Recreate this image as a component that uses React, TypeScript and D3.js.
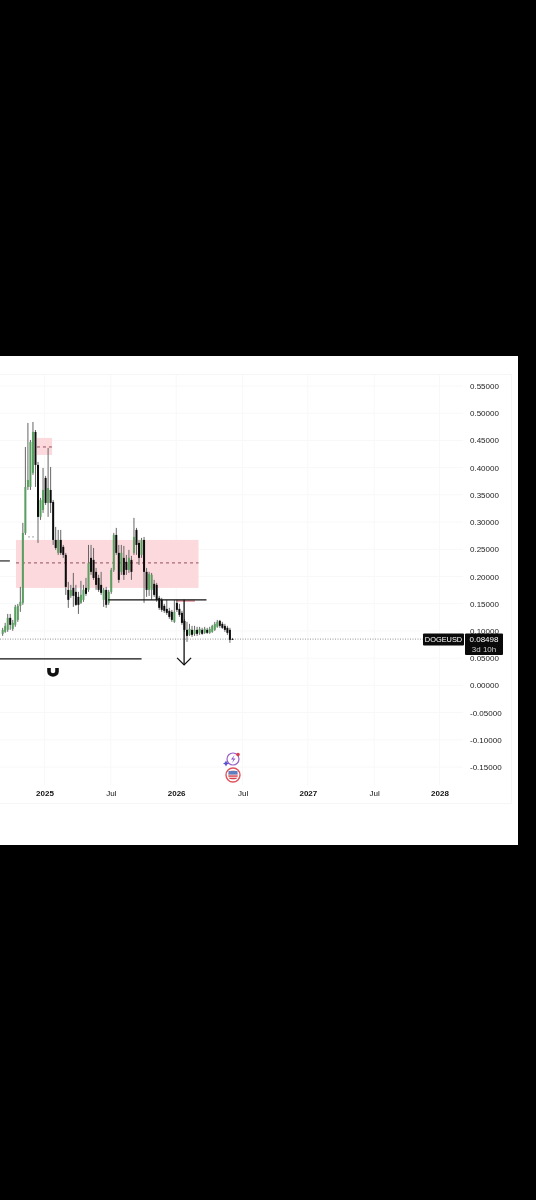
import { useEffect, useRef } from "react";
import * as d3 from "d3";

const firstWeek = "2024-09-07";
// weekly DOGEUSD candles
const opens = [.0946,.0983,.1020,.1240,.1038,.1112,.1203,.1461,.1516,.2801,.3645,.3645,.3903,.4656,.4050,.3095,.3223,.3811,.3352,.3590,.3370,.2672,.2434,.2672,.2544,.2397,.1754,.1644,.1791,.1718,.1626,.1516,.1571,.1791,.1754,.2342,.2305,.2085,.1974,.1846,.1571,.1754,.1516,.1718,.2121,.2764,.2434,.2085,.2342,.2269,.2121,.2305,.2434,.2856,.2617,.2397,.2672,.2085,.1754,.1754,.1865,.1846,.1607,.1571,.1461,.1405,.1369,.1350,.1167,.1516,.1405,.1332,.1185,.1020,.0928,.1020,.0946,.1020,.0965,.1020,.0965,.1020,.0965,.0983,.1020,.1075,.1185,.1130,.1093,.1057,.1020,.0853];
const highs = [.1057,.1148,.1313,.1313,.1203,.1479,.1497,.1809,.2985,.4380,.4821,.4509,.4839,.4692,.4105,.3444,.3995,.3848,.4362,.4013,.3407,.2911,.2856,.2856,.2580,.2434,.1901,.1846,.2066,.1846,.1718,.1920,.1846,.1974,.2580,.2580,.2525,.2158,.2030,.2085,.1791,.1809,.1754,.2158,.2801,.2893,.2580,.2580,.2562,.2397,.2489,.2379,.3077,.2893,.2672,.2709,.2727,.2158,.2085,.2066,.1938,.1883,.1644,.1607,.1497,.1571,.1424,.1387,.1571,.1571,.1497,.1369,.1222,.1167,.1130,.1093,.1093,.1075,.1075,.1057,.1075,.1057,.1075,.1112,.1167,.1203,.1203,.1167,.1130,.1093,.1057,.0872];
const lows = [.0909,.0965,.0983,.1020,.1001,.1075,.1167,.1350,.1479,.2764,.3590,.3590,.3866,.3645,.2617,.3040,.3168,.3315,.3095,.3168,.2580,.2489,.2397,.2397,.2342,.1662,.1424,.1607,.1442,.1461,.1313,.1497,.1534,.1644,.1718,.2030,.1938,.1754,.1718,.1662,.1442,.1424,.1479,.1681,.2085,.2397,.1883,.2030,.1938,.2030,.2066,.1938,.2397,.2397,.2213,.2342,.1516,.1626,.1644,.1571,.1626,.1534,.1387,.1350,.1332,.1295,.1222,.1167,.1148,.1350,.1258,.1112,.0983,.0799,.0909,.0891,.0909,.0909,.0928,.0928,.0946,.0946,.0946,.0965,.1001,.1057,.1057,.1038,.0983,.0928,.0781,.0836];
const closes = [.1020,.1093,.1240,.1112,.1148,.1442,.1461,.1534,.2801,.3645,.3774,.4472,.4656,.4050,.3095,.3407,.3590,.3352,.3627,.3352,.2672,.2525,.2672,.2434,.2397,.1809,.1571,.1754,.1644,.1479,.1479,.1662,.1754,.1681,.2250,.2085,.1974,.1846,.1754,.1699,.1754,.1479,.1718,.2121,.2764,.2434,.1938,.2434,.2030,.2121,.2342,.2085,.2727,.2580,.2342,.2672,.2085,.1754,.2048,.2030,.1662,.1571,.1424,.1387,.1369,.1332,.1258,.1203,.1350,.1387,.1295,.1148,.1020,.0909,.1038,.0928,.1020,.0946,.1038,.0946,.1038,.0965,.1038,.1093,.1130,.1167,.1093,.1057,.1020,.0965,.0836,.0850];

const priceTicks = [.55,.5,.45,.4,.35,.3,.25,.2,.15,.1,.05,0,-.05,-.1,-.15];
const timeTicks = ["2025-01-01","2025-07-04","2026-01-01","2026-07-04","2027-01-01","2027-07-04","2028-01-01"];
const timeLabels = ["2025","Jul","2026","Jul","2027","Jul","2028"];
const lastPrice = 0.08498;
const countdown = "3d 10h";
const symbol = "DOGEUSD";

const day = (s: string) => new Date(s + "T00:00:00Z");

// drawings: [from, to, top price, bottom price]
const zones: [string, string, number, number][] = [
    ["2024-10-14", "2026-03-04", 0.2672, 0.1791],
    ["2024-12-11", "2025-01-22", 0.4546, 0.4234],
    ["2026-01-01", "2026-02-22", 0.1571, 0.1534],
];
const midlines: [string, string, number][] = [
    ["2024-10-14", "2026-03-04", 0.2250],
    ["2024-12-11", "2025-01-22", 0.4380],
];
const dottedLines: [string, string, number][] = [["2024-11-17", "2024-12-08", 0.2727]];
const blackLines: [string, string, number][] = [
    ["2024-08-01", "2024-09-27", 0.2286],
    ["2024-08-01", "2025-09-27", 0.0487],
    ["2025-06-26", "2026-03-26", 0.1571],
];
const arrowDate = "2026-01-23";
const arrowFrom = 0.1571;
const arrowTo = 0.0377;

const App = () => {
    const ref = useRef<SVGSVGElement>(null);

    useEffect(() => {
        const svg = d3.select(ref.current);
        svg.selectAll("*").remove();

        var x = d3.scaleUtc().domain([day("2025-01-01"), day("2028-01-01")]).range([44.5, 439.5]);
        var y = d3.scaleLinear().domain([0.55, -0.15]).range([386, 767]);

        svg.append("rect").attr("width", 536).attr("height", 1200).attr("fill", "#000");
        svg.append("rect").attr("y", 356).attr("width", 518).attr("height", 489).attr("fill", "#fff");
        svg.append("defs").append("clipPath").attr("id", "panel")
            .append("rect").attr("y", 356).attr("width", 518).attr("height", 489);

        const root = svg.append("g").attr("clip-path", "url(#panel)")
            .style("font-family", "'Liberation Sans', Arial, sans-serif");

        // frame
        root.append("path").attr("d", "M0,374.5H511.5V803.5H0").attr("fill", "none").attr("stroke", "#f6f6f6");

        // grid
        root.append("g").selectAll("line").data(priceTicks).join("line")
            .attr("x1", 0).attr("x2", 463)
            .attr("y1", d => y(d)).attr("y2", d => y(d))
            .attr("stroke", "#f8f8f8");
        root.append("g").selectAll("line").data(timeTicks).join("line")
            .attr("x1", d => x(day(d))).attr("x2", d => x(day(d)))
            .attr("y1", 375).attr("y2", 785)
            .attr("stroke", "#f8f8f8");

        // pink zones
        root.append("g").selectAll("rect").data(zones).join("rect")
            .attr("x", d => x(day(d[0])))
            .attr("width", d => x(day(d[1])) - x(day(d[0])))
            .attr("y", d => y(d[2]))
            .attr("height", d => y(d[3]) - y(d[2]))
            .attr("fill", (d, i) => i == 2 ? "#e9a0a8" : "#fbd9dd");
        root.append("g").selectAll("line").data(midlines).join("line")
            .attr("x1", d => x(day(d[0]))).attr("x2", d => x(day(d[1])))
            .attr("y1", d => y(d[2])).attr("y2", d => y(d[2]))
            .attr("stroke", "#8a3f4a").attr("stroke-dasharray", "3 3").attr("stroke-width", 0.9);
        root.append("g").selectAll("line").data(dottedLines).join("line")
            .attr("x1", d => x(day(d[0]))).attr("x2", d => x(day(d[1])))
            .attr("y1", d => y(d[2])).attr("y2", d => y(d[2]))
            .attr("stroke", "#666").attr("stroke-dasharray", "1.5 2.5").attr("stroke-width", 0.8);

        // last price line
        root.append("line")
            .attr("x1", 0).attr("x2", 423)
            .attr("y1", y(lastPrice)).attr("y2", y(lastPrice))
            .attr("stroke", "#777").attr("stroke-dasharray", "1 1.5").attr("stroke-width", 0.8);

        // candles
        const start = day(firstWeek);
        const candles = root.append("g").selectAll("g").data(d3.range(opens.length)).join("g");
        const when = (i: number) => d3.utcWeek.offset(start, i);
        candles.append("line")
            .attr("x1", i => x(when(i))).attr("x2", i => x(when(i)))
            .attr("y1", i => y(highs[i])).attr("y2", i => y(lows[i]))
            .attr("stroke", "#666").attr("stroke-width", 1);
        candles.append("rect")
            .attr("x", i => x(when(i)) - 1)
            .attr("width", 2)
            .attr("y", i => y(Math.max(opens[i], closes[i])))
            .attr("height", i => Math.max(0.8, Math.abs(y(opens[i]) - y(closes[i]))))
            .attr("fill", i => closes[i] >= opens[i] ? "#5a9f60" : "#0c0c0c");

        // black trend lines
        root.append("g").selectAll("line").data(blackLines).join("line")
            .attr("x1", d => x(day(d[0]))).attr("x2", d => x(day(d[1])))
            .attr("y1", d => y(d[2])).attr("y2", d => y(d[2]))
            .attr("stroke", "#111").attr("stroke-width", 1.1);

        // arrow
        const ax = x(day(arrowDate));
        root.append("line")
            .attr("x1", ax).attr("x2", ax)
            .attr("y1", y(arrowFrom)).attr("y2", y(arrowTo))
            .attr("stroke", "#111").attr("stroke-width", 1.3);
        root.append("path")
            .attr("d", `M${ax - 7},${y(arrowTo) - 7}L${ax},${y(arrowTo)}L${ax + 7},${y(arrowTo) - 7}`)
            .attr("fill", "none").attr("stroke", "#111").attr("stroke-width", 1.3);

        // magnet icon
        root.append("path")
            .attr("d", "M49,668V671.5a4,3.5 0 0 0 8,0V668")
            .attr("fill", "none").attr("stroke", "#111").attr("stroke-width", 3.6);

        // event icons
        const bolt = root.append("g").attr("transform", "translate(233,759)");
        bolt.append("circle").attr("r", 6).attr("fill", "#fff").attr("stroke", "#9a5fc8").attr("stroke-width", 1.2);
        bolt.append("path").attr("d", "M1.5,-4L-2,0.5H0.5L-1,4L2.5,-0.5H0Z").attr("fill", "#8e4fc4");
        bolt.append("path").attr("d", "M-7,1.5L-6,3.5L-4,4.5L-6,5.5L-7,7.5L-8,5.5L-10,4.5L-8,3.5Z").attr("fill", "#5a4fd0");
        bolt.append("circle").attr("cx", 5).attr("cy", -4.5).attr("r", 1.8).attr("fill", "#d8404c");
        const flag = root.append("g").attr("transform", "translate(233,775)");
        flag.append("circle").attr("r", 7).attr("fill", "#fff").attr("stroke", "#e0525c").attr("stroke-width", 1.4);
        flag.append("circle").attr("r", 5).attr("fill", "#f3c6c8");
        flag.append("rect").attr("x", -4.5).attr("y", -4).attr("width", 9).attr("height", 3.5).attr("fill", "#5b7fc0");
        flag.append("rect").attr("x", -4.5).attr("y", 0.5).attr("width", 9).attr("height", 1.2).attr("fill", "#d8404c");
        flag.append("rect").attr("x", -3.5).attr("y", 3).attr("width", 7).attr("height", 1).attr("fill", "#d8404c");

        // price axis
        const yAxis = root.append("g").attr("transform", "translate(470,0)")
            .call(d3.axisRight(y).tickValues(priceTicks).tickSize(0).tickPadding(0).tickFormat(d => Number(d).toFixed(5)));
        yAxis.select(".domain").remove();
        yAxis.selectAll("text").attr("font-size", 8).attr("font-family", "'Liberation Sans', Arial, sans-serif").attr("fill", "#222");

        // time axis
        const xAxis = root.append("g").attr("transform", "translate(0,790)")
            .call(d3.axisBottom(x).tickValues(timeTicks.map(day)).tickSize(0).tickPadding(0)
                .tickFormat((d, i) => timeLabels[i]));
        xAxis.select(".domain").remove();
        xAxis.selectAll("text").attr("font-size", 8).attr("font-family", "'Liberation Sans', Arial, sans-serif")
            .attr("fill", "#111").attr("font-weight", (d, i) => timeLabels[i] == "Jul" ? 400 : 700);

        // price labels
        const ly = y(lastPrice);
        root.append("rect").attr("x", 423).attr("y", ly - 5.5).attr("width", 41).attr("height", 12).attr("rx", 1).attr("fill", "#0a0a0a");
        root.append("rect").attr("x", 465).attr("y", ly - 5.5).attr("width", 38).attr("height", 21.5).attr("rx", 1).attr("fill", "#0a0a0a");
        root.append("text").attr("x", 443.5).attr("y", ly + 3.3).attr("text-anchor", "middle")
            .attr("font-size", 7.4).attr("fill", "#fff").text(symbol);
        root.append("text").attr("x", 484).attr("y", ly + 3.3).attr("text-anchor", "middle")
            .attr("font-size", 8).attr("fill", "#fff").text(lastPrice.toFixed(5));
        root.append("text").attr("x", 484).attr("y", ly + 13).attr("text-anchor", "middle")
            .attr("font-size", 8).attr("fill", "#ccc").text(countdown);
    }, []);

    return <svg ref={ref} width={536} height={1200} style={{ position: "absolute", left: 0, top: 0, filter: "blur(0.4px)" }} />;
};

export default App;
